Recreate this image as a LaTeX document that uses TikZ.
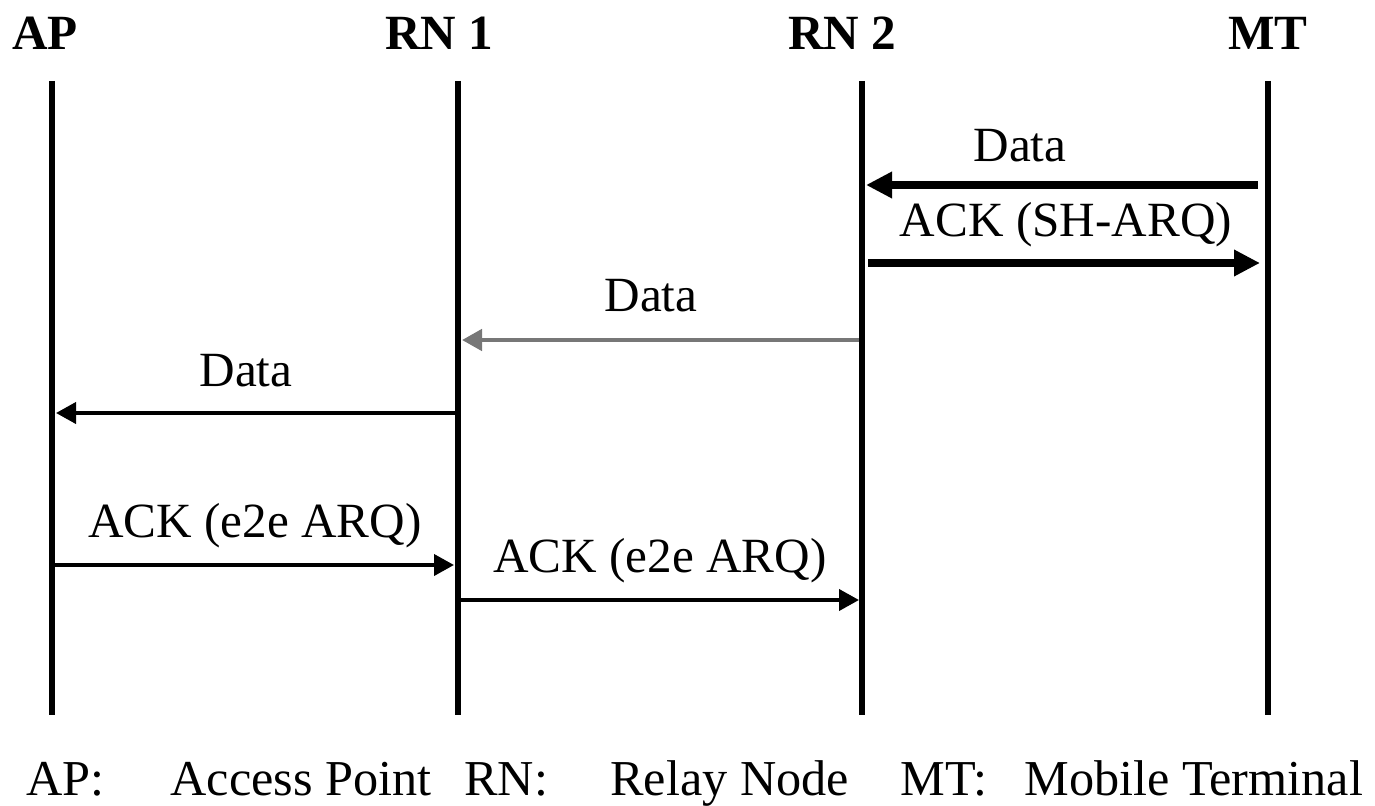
\documentclass[tikz,border=0pt]{standalone}
\usepackage{fontspec}
\setmainfont{Liberation Serif}
\usepackage{xcolor}
\usetikzlibrary{arrows.meta}
\definecolor{msggray}{HTML}{777777}

\tikzset{
  lifeline/.style={line width=1.6pt},
  msgthin/.style={line width=1.1pt, -{Triangle[length=0.20cm, width=0.21cm]}},
  msgthick/.style={line width=2.0pt, -{Triangle[length=0.26cm, width=0.25cm]}},
  msglabel/.style={font=\fontsize{14}{16}\selectfont, anchor=base},
  partname/.style={font=\fontsize{14}{16}\selectfont\bfseries, anchor=base},
  legend/.style={font=\fontsize{14.3}{17}\selectfont, anchor=base west}
}

\begin{document}
\begin{tikzpicture}[x=1cm, y=1cm]
\useasboundingbox (0,0) rectangle (13.75,8.05);
% participants
\node[partname] (apname) at (0.45,7.55) {AP};
\node[partname] (rn1name) at (4.39,7.55) {RN 1};
\node[partname] (rn2name) at (8.42,7.55) {RN 2};
\node[partname] (mtname) at (12.68,7.55) {MT};
\coordinate (aptop) at (0.52,7.24);  \coordinate (apbot) at (0.52,0.90);
\coordinate (rn1top) at (4.58,7.24); \coordinate (rn1bot) at (4.58,0.90);
\coordinate (rn2top) at (8.62,7.24); \coordinate (rn2bot) at (8.62,0.90);
\coordinate (mttop) at (12.68,7.24); \coordinate (mtbot) at (12.68,0.90);
\draw[lifeline] (aptop) -- (apbot);
\draw[lifeline] (rn1top) -- (rn1bot);
\draw[lifeline] (rn2top) -- (rn2bot);
\draw[lifeline] (mttop) -- (mtbot);
% single hop MT <-> RN 2
\coordinate (mtdata) at (12.58,6.20);  \coordinate (rn2data) at (8.66,6.20);
\draw[msgthick] (mtdata) -- (rn2data);
\node[msglabel] (data1) at (10.20,6.43) {Data};
\coordinate (rn2ack) at (8.68,5.42);   \coordinate (mtack) at (12.60,5.42);
\draw[msgthick] (rn2ack) -- (mtack);
\node[msglabel] (ack1) at (10.66,5.68) {ACK (SH-ARQ)};
% forwarding to AP
\coordinate (rn2fwd) at (8.59,4.65);   \coordinate (rn1fwd) at (4.62,4.65);
\draw[msgthin, msggray, line width=1.3pt] (rn2fwd) -- (rn1fwd);
\node[msglabel] (data2) at (6.51,4.94) {Data};
\coordinate (rn1data) at (4.56,3.92);  \coordinate (apdata) at (0.56,3.92);
\draw[msgthin] (rn1data) -- (apdata);
\node[msglabel] (data3) at (2.46,4.19) {Data};
% end-to-end acknowledgement
\coordinate (apack) at (0.52,2.40);    \coordinate (rn1ack) at (4.54,2.40);
\draw[msgthin] (apack) -- (rn1ack);
\node[msglabel] (ack2) at (2.55,2.68) {ACK (e2e ARQ)};
\coordinate (rn1ack2) at (4.60,2.05);  \coordinate (rn2ack2) at (8.59,2.05);
\draw[msgthin] (rn1ack2) -- (rn2ack2);
\node[msglabel] (ack3) at (6.60,2.33) {ACK (e2e ARQ)};
% legend
\node[legend] (lap) at (0.14,0.10) {AP:};
\node[legend] (lapname) at (1.58,0.10) {Access Point};
\node[legend] (lrn) at (4.52,0.10) {RN:};
\node[legend] (lrnname) at (5.98,0.10) {Relay Node};
\node[legend] (lmt) at (8.88,0.10) {MT:};
\node[legend] (lmtname) at (10.12,0.10) {Mobile Terminal};
\end{tikzpicture}
\end{document}
